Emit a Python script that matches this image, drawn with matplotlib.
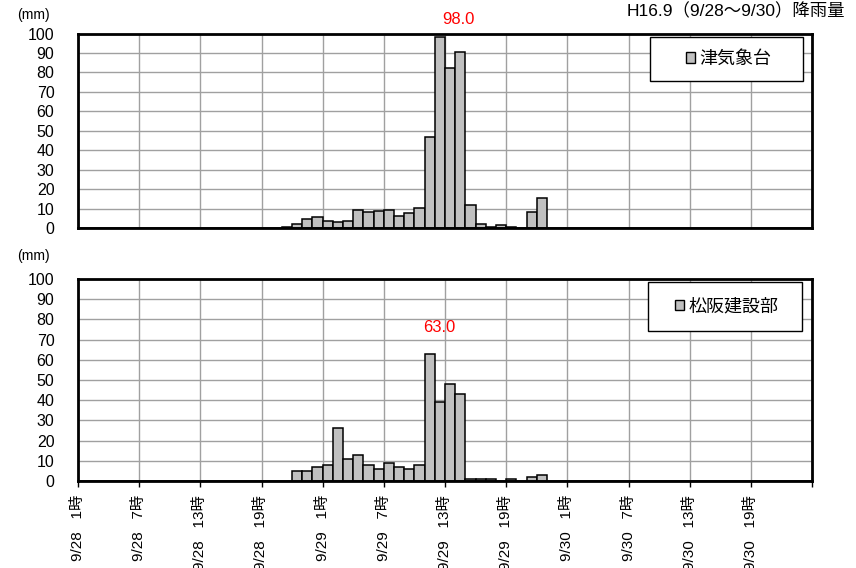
import matplotlib
matplotlib.use("Agg")
import matplotlib.pyplot as plt
from matplotlib.patches import Patch, Rectangle
from matplotlib import font_manager

names = {f.name for f in font_manager.fontManager.ttflist}
base = 'Liberation Sans Narrow' if 'Liberation Sans Narrow' in names else 'Liberation Sans'
plt.rcParams['font.family'] = [base, 'Noto Sans CJK JP', 'DejaVu Sans']

# ---- data ----
tick_labels = ["9/28   1時", "9/28   7時", "9/28   13時", "9/28   19時",
               "9/29   1時", "9/29   7時", "9/29   13時", "9/29   19時",
               "9/30   1時", "9/30   7時", "9/30   13時", "9/30   19時"]

tsu_name = "津気象台"
tsu = [0, 0, 0, 0, 0, 0, 0, 0, 0, 0, 0, 0,
       0, 0, 0, 0, 0, 0, 0, 0, 0.5, 2, 4.5, 5.5,
       3.5, 3, 3.5, 9, 8, 8.5, 9.5, 6, 7.5, 10.5, 47, 98,
       82.5, 90.5, 12, 2, 0.5, 1.5, 0.5, 0, 8, 15.5, 0, 0,
       0, 0, 0, 0, 0, 0, 0, 0, 0, 0, 0, 0,
       0, 0, 0, 0, 0, 0, 0, 0, 0, 0, 0, 0]

mat_name = "松阪建設部"
mat = [0, 0, 0, 0, 0, 0, 0, 0, 0, 0, 0, 0,
       0, 0, 0, 0, 0, 0, 0, 0, 0, 5, 5, 7,
       8, 26, 11, 13, 8, 6, 9, 7, 6, 8, 63, 39,
       48, 43, 1, 1, 1, 0, 1, 0, 2, 3, 0, 0,
       0, 0, 0, 0, 0, 0, 0, 0, 0, 0, 0, 0,
       0, 0, 0, 0, 0, 0, 0, 0, 0, 0, 0, 0]

title = "H16.9（9/28～9/30）降雨量"
unit = "(mm)"

W, H = 856, 568
fig = plt.figure(figsize=(W / 100, H / 100), dpi=100)

def ax_rect(l, r, t, b):
    return [l / W, 1 - b / H, (r - l) / W, (b - t) / H]

ax1 = fig.add_axes(ax_rect(78, 812, 33.5, 228))
ax2 = fig.add_axes(ax_rect(78, 812, 279, 481))

n = len(tsu)
xs = [i + 0.5 for i in range(n)]

def style(ax, values, name, peak_offset, show_x, box):
    ax.bar(xs, values, width=1.0, color='#c0c0c0', edgecolor='black',
           linewidth=1.1, zorder=3, label=name)
    ax.set_xlim(0, n)
    ax.set_ylim(0, 100)
    ax.set_yticks(range(0, 101, 10))
    ax.set_xticks(range(0, n + 1, 6))
    ax.grid(True, color='#a0a0a0', linewidth=1.0, zorder=0)
    for s in ax.spines.values():
        s.set_linewidth(2.0)
        s.set_color('black')
        s.set_zorder(5)
    ax.tick_params(axis='y', length=0, pad=17, labelsize=11.5)
    if show_x:
        ax.set_xticklabels(tick_labels + [""], rotation=90, fontsize=11)
        ax.tick_params(axis='x', length=4, width=1, direction='out', pad=6)
    else:
        ax.set_xticklabels([])
        ax.tick_params(axis='x', length=0)
    # peak label
    k = max(range(n), key=lambda i: values[i])
    ax.annotate(f"{values[k]:.1f}", xy=(xs[k], values[k]), xytext=peak_offset,
                textcoords='offset pixels', ha='center', va='center',
                color='#ff0000', fontsize=12, annotation_clip=False, zorder=6)
    # legend box
    x0, x1, y0, y1 = box
    ax.add_patch(Rectangle((x0, y0), x1 - x0, y1 - y0, transform=ax.transAxes,
                           facecolor='white', edgecolor='black', linewidth=1.0,
                           zorder=9, clip_on=False))
    leg = ax.legend(handles=[Patch(facecolor='#c0c0c0', edgecolor='black', linewidth=1)],
                    labels=[name], loc='center',
                    bbox_to_anchor=((x0 + x1) / 2 + 0.003, (y0 + y1) / 2),
                    frameon=False, fontsize=13, handlelength=0.5, handleheight=0.5,
                    handletextpad=0.25, borderpad=0, borderaxespad=0)
    leg.set_zorder(10)
    for t in leg.get_texts():
        t.set_fontfamily(['Noto Sans CJK JP'])

style(ax1, tsu, tsu_name, (19, 18), False, (0.779, 0.988, 0.756, 0.982))
style(ax2, mat, mat_name, (10, 26), True, (0.777, 0.986, 0.743, 0.985))

fig.text(17 / W, 1 - 15 / H, unit, fontsize=10, ha='left', va='center')
fig.text(17 / W, 1 - 256 / H, unit, fontsize=10, ha='left', va='center')
fig.text(845 / W, 1 - 11 / H, title, fontsize=12.5, ha='right', va='center',
         family=[base, 'Noto Sans CJK JP'])

fig.savefig("out.png", dpi=100)
